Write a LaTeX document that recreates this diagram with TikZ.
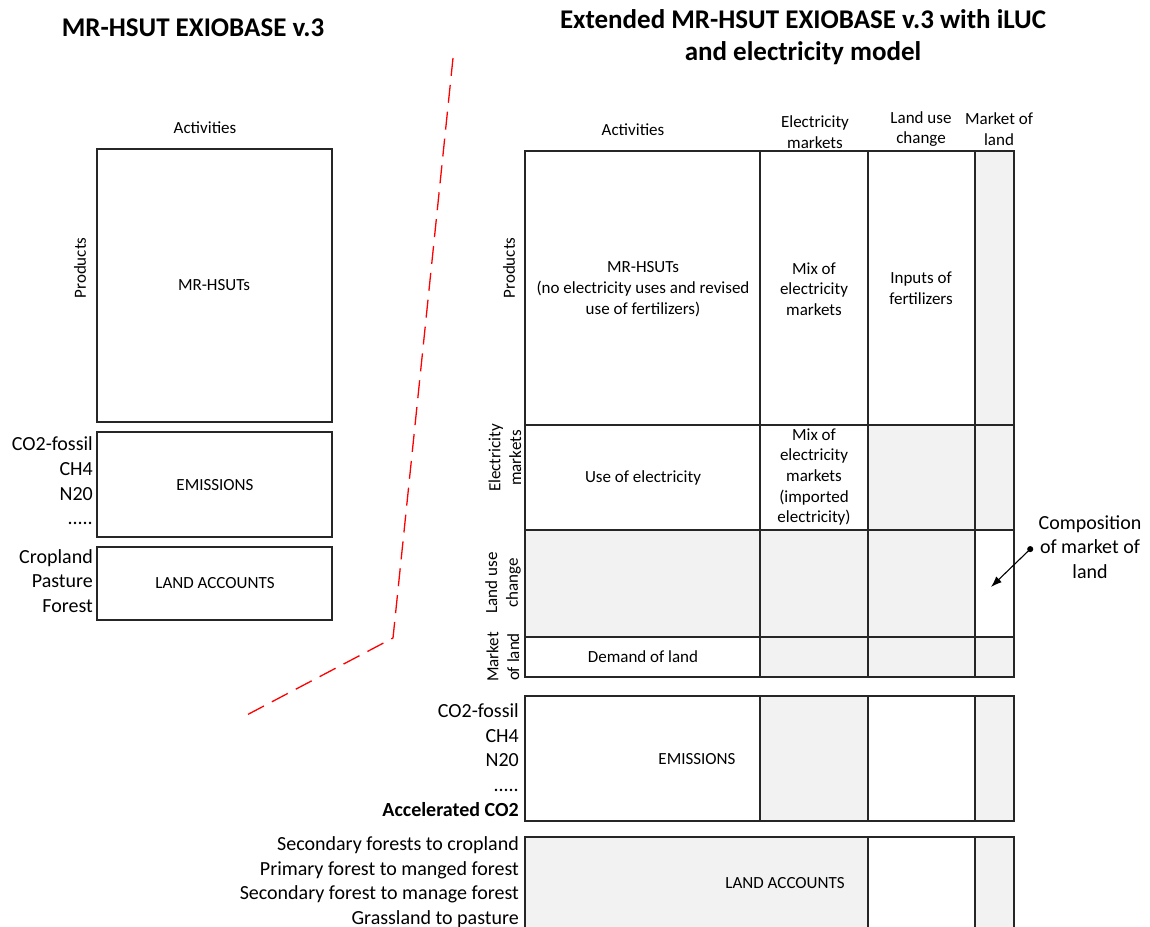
\documentclass[tikz,border=0pt]{standalone}
\usepackage{fontspec}
\setmainfont{Carlito}
\usepackage{tikz}
\usetikzlibrary{arrows.meta}
\definecolor{cellgray}{HTML}{F2F2F2}
\tikzset{
  grid line/.style={line width=1.3pt, draw=black!85},
  txt/.style={font=\fontsize{17}{20.7}\selectfont, align=center, inner sep=0pt},
  side/.style={font=\fontsize{20}{24.6}\selectfont, align=right, anchor=east, inner sep=0pt},
  ttl/.style={font=\fontsize{27}{32}\selectfont\bfseries, align=center, inner sep=0pt},
  rot/.style={txt, rotate=90},
}
\def\cellbox[#1](#2)(#3)% Syntax: [fill colour] (top left) (bottom right)
    { \draw[grid line, fill=#1] (#2) rectangle (#3); }

\begin{document}
\begin{tikzpicture}[x=1pt, y=-1pt]
  \useasboundingbox (0,0) rectangle (1150,926);
  \clip (0,0) rectangle (1150,926);

  % left: original table
  \node[ttl] (titleA) at (193,28) {MR-HSUT EXIOBASE v.3};
  \node[txt] (actA) at (205,128) {Activities};
  \cellbox[white](97,149)(332,422)
  \cellbox[white](97,432)(332,537)
  \cellbox[white](97,547)(332,620)
  \node[rot] (prodA) at (80,268) {Products};
  \node[txt] (hsutA) at (214,285) {MR-HSUTs};
  \node[txt] (emisA) at (215,485) {EMISSIONS};
  \node[txt] (landA) at (215,583) {LAND ACCOUNTS};
  \node[side] (emisLblA) at (93,481) {CO2-fossil\\CH4\\N20\\.....};
  \node[side] (landLblA) at (93,581) {Cropland\\Pasture\\Forest};

  % separator
  \coordinate (cutTop) at (453,58);
  \coordinate (cutBend) at (393,638);
  \coordinate (cutEnd) at (243,717);
  \draw[red, line width=1.3pt, dash pattern=on 18pt off 9pt] (cutTop) -- (cutBend) -- (cutEnd);

  % right: extended table
  \node[ttl] (titleB) at (803,37) {Extended MR-HSUT EXIOBASE v.3 with iLUC\\and electricity model};
  \node[txt] (actB) at (633,130) {Activities};
  \node[txt] (elmB) at (815,132) {Electricity\\markets};
  \node[txt] (lucB) at (921,129) {Land use\\change};
  \node[txt] (molB) at (999,129) {Market of\\land};

  \cellbox[white](525,151)(760,425)
  \cellbox[white](760,151)(868,425)
  \cellbox[white](868,151)(975,425)
  \cellbox[cellgray](975,151)(1014,425)
  \cellbox[white](525,425)(760,530)
  \cellbox[white](760,425)(868,530)
  \cellbox[cellgray](868,425)(975,530)
  \cellbox[cellgray](975,425)(1014,530)
  \cellbox[cellgray](525,530)(760,637)
  \cellbox[cellgray](760,530)(868,637)
  \cellbox[cellgray](868,530)(975,637)
  \cellbox[white](975,530)(1014,637)
  \cellbox[white](525,637)(760,677)
  \cellbox[cellgray](760,637)(868,677)
  \cellbox[cellgray](868,637)(975,677)
  \cellbox[cellgray](975,637)(1014,677)

  \cellbox[white](525,696)(760,821)
  \cellbox[cellgray](760,696)(868,821)
  \cellbox[white](868,696)(975,821)
  \cellbox[cellgray](975,696)(1014,821)
  \cellbox[cellgray](525,837)(868,940)
  \cellbox[white](868,837)(975,940)
  \cellbox[cellgray](975,837)(1014,940)

  \node[rot] (prodB) at (509,268) {Products};
  \node[rot] (elmRow) at (505,458) {Electricity\\markets};
  \node[rot] (lucRow) at (503,583) {Land use\\change};
  \node[rot] (molRow) at (503,657) {Market\\of land};

  \node[txt] (hsutB) at (643,289) {MR-HSUTs\\(no electricity uses and revised\\use of fertilizers)};
  \node[txt] (mixB) at (814,289) {Mix of\\electricity\\markets};
  \node[txt] (fertB) at (921,288) {Inputs of\\fertilizers};
  \node[txt] (useB) at (643,478) {Use of electricity};
  \node[txt] (impB) at (814,477) {Mix of\\electricity\\markets\\(imported\\electricity)};
  \node[txt] (demB) at (643,657) {Demand of land};
  \node[txt] (emisB) at (697,759) {EMISSIONS};
  \node[txt] (landB) at (785,883) {LAND ACCOUNTS};

  \node[side] (emisLblB) at (519,760) {CO2-fossil\\CH4\\N20\\.....\\\textbf{Accelerated CO2}};
  \node[side] (landLblB) at (519,882) {Secondary forests to cropland\\Primary forest to manged forest\\Secondary forest to manage forest\\Grassland to pasture};

  % annotation
  \node[txt, font=\fontsize{20}{24.6}\selectfont] (comp) at (1090,547) {Composition\\of market of\\land};
  \coordinate (compTip) at (991,587);
  \draw[line width=1.1pt, {Circle[length=6pt]}-{Latex[length=11pt, width=8pt]}] ([xshift=-6pt]comp.west) -- (compTip);
\end{tikzpicture}
\end{document}
